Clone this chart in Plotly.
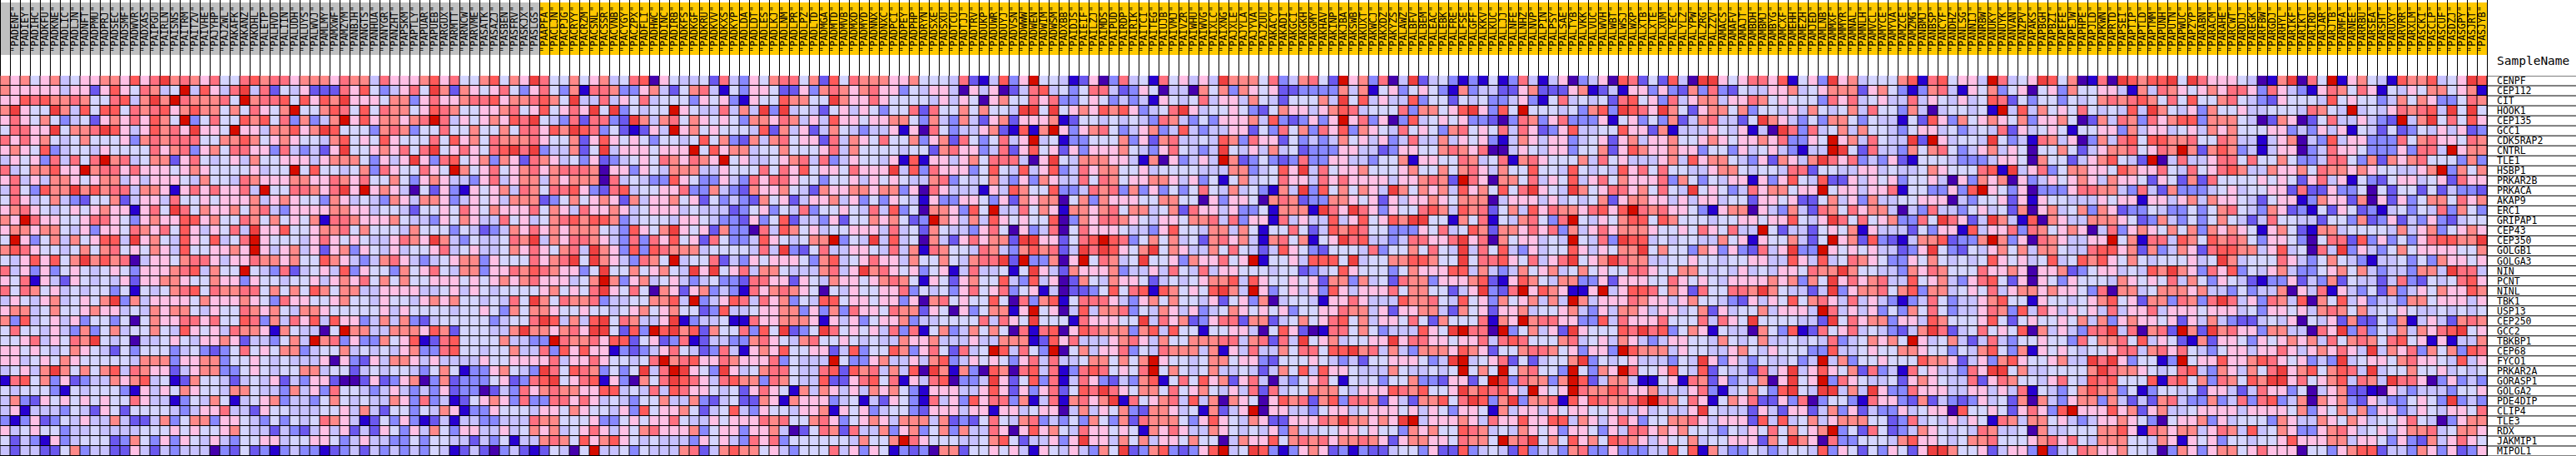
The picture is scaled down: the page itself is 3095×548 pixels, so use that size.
import plotly.graph_objects as go

genes = ["CENPF","CEP112","CIT","HOOK1","CEP135","GCC1","CDK5RAP2","CNTRL","TLE1","HSBP1","PRKAR2B","PRKACA","AKAP9","ERC1","GRIPAP1","CEP43","CEP350","GOLGB1","GOLGA3","NIN","PCNT","NINL","TBK1","USP13","CEP250","GCC2","TBKBP1","CEP68","FYCO1","PRKAR2A","GORASP1","GOLGA2","PDE4DIP","CLIP4","TLE3","RDX","JAKMIP1","MIPOL1"]

samples_grey = "PACUGP PADENF PADIEY PADIHC PADKFU PADKNE PADLIC PADLJN PADNFT PADPMU PADPRJ PADSEC PADSMF PADWVR PADXAS PAIPGU PAIRLN PAISNS PAITRM PAITZV PAIVHE PAJYHP PAJZWL PAKAFK PAKANZ PAKDHL PALETP PALHVD PALIIN PALUDH PALUYS PALWVJ PAMLMY PAMXWF PAMZYM PANBJH PANGTS PANHUA PANYGR PANZHT PAPSKM PAPTLY PAPUAR PAPUEB PARGUX PARMTT PARNCW PARVME PASATK PASAZJ PASBEN PASFRV PASKJX PASLGS".split()
samples_gold = "PAAPFA PACLJN PACPJG PACRYY PACRZM PACSNL PACSSR PACVNB PACYGY PACZPX PADFLI PADHWC PADINC PADIRB PADKFS PADKGF PADKRU PADKVV PADKXS PADKYP PADLDA PADLDT PADLES PADLKJ PADLNM PADLPR PADLPZ PADLTD PADMGA PADMTD PADMVB PADMXD PADMYD PADNNX PADNXC PADPCI PADPEY PADPHP PADRYN PADSXE PADSXU PADTCU PADTJJ PADTRV PADUKP PADUWR PADUYJ PADVSN PADWWW PADWEN PADWIM PADWSM PADXBB PAIDJS PAIEIF PAILZJ PAIMDS PAIPUD PAIRDP PAIRIK PAITCI PAITEG PAIUJB PAIVMJ PAIVZR PAIWHU PAIWVG PAIXLC PAIXNG PAJXLE PAJYLA PAJYVA PAJZUU PAKACY PAKADI PAKGCI PAKGKH PAKGMY PAKHAV PAKINP PAKJBA PAKSWB PAKUXT PAKWCJ PAKXDZ PAKYZS PALAWZ PALBFV PALBEM PALEAC PALEBK PALFRE PALFSE PALGFF PALKKV PALKUC PALLJJ PALNFE PALNHZ PALNVP PALPIN PALPSY PALSAE PALTYB PALVKK PALVUC PALWVH PALWBT PALWSJ PALWXP PALXTB PALXTE PALXUM PALYEC PALYLZ PALYPW PALZRG PALZZV PAMACS PAMAFV PAMAJT PAMBDH PAMBMJ PAMBYG PAMCXF PAMEHH PAMEZH PAMJED PAMLNB PAMMXF PAMMYR PAMNAL PAMNLH PAMVCL PAMYCE PAMYVA PAMZCE PAMZMG PANBMJ PANBSP PANCYF PANDHZ PANLSG PANNIJ PANRBW PANUKY PANUYK PANVAN PANZPV PAPAKS PAPBGH PAPBZI PAPEFE PAPEJW PAPHPE PAPJLD PAPKWN PAPRTD PAPSEI PAPTIP PAPTLD PAPTMM PAPUNH PAPUTN PAPWUC PAPZYP PARABN PARACM PARAHE PARCWT PARDUJ PAREGK PARFBW PARGDJ PARHYL PARIKF PARIKT PARIRD PARJAR PARJTB PARMFA PARNEE PARRBU PARSEA PARSHT PARUXY PARVRR PARXLM PASCKI PASCLP PASCUF PASDZJ PASGPY PASJRT PASJYB".split()

# Colour level of each cell: hex digit, 0 = darkest blue ... b = deepest red.
block1 = """
767567 456677 6968a7 876855 897886 777687
766666 466269 658745 b49648 a48254 622286
669897 787558 947a7b 877785 b78895 9697a6
7a655a 749599 587896 797757 58657b 557985
686575 345267 686975 b35855 979583 7347b6
58866a 577 8a9 646978 6a665b 664779 67a955
868675 457555 637878 885577 975676 554795
676593 455465 555867 836758 866384 3426a5
465638 485 8b7 845772 685456 475566 646777
845779 66b788 686665 676555 56455b 595545
684647 765677 464666 547554 876667 766876
485397 7a7978 847761 686866 84b558 8768a6
586457 432557 246648 556566 674676 553764
678654 565 676 61685a 857667 578436 666776
76b866 556886 536766 996755 875756 571887
677677 546366 587685 964658 4a6695 567785
5b6357 475699 4a6754 965945 8b6555 468656
798655 457578 565764 955667 6b6467 462673
546969 57a797 804665 788646 687767 559764
846363 565456 536667 894755 b54382 456493
658164 265454 626677 655766 365545 564676
858756 454553 515457 895877 885757 597577
465467 456 57a 374666 657666 765386 655675
677457 556766 454767 754655 876754 776555
739456 463553 505766 886855 983748 694966
585546 437357 455754 965648 776175 4405b7
556846 587a54 504456 546676 244357 4b7836
665654 576542 535553 453235 856577 345574
664565 765555 547773 667735 565454 446063
456 47a 757 579 487 662 467 733 565455 774552
189573 623447 679451 275542 454624 366200
545553 154555 316465 765547 754437 463855
473265 656565 586441 354751 456734 435754
461444 354265 255554 346684 426554 445564
313623 546447 422473 577366 543535 458764
645655 344544 445556 565567 544243 246462
524316 345552 375363 654643 556645 566534
424422 573442 264243 444032 523134 331234
"""

block2 = """
748666 796855 7957 6a 855756 745890 654452
953 468 5a7276 568536 853718 873367 425784
665773 686678 896778 975a44 846584 555365
958775 698755 667856 956 86a 5a3545 5b6544
967767 8b8465 67698a 543828 832a74 785765
537873 558557 557588 697a98 352126 4b6756
659655 585967 587778 6 5 5 7 2 6 965653 554 595
567685 8a5686 589a8a 344725 a46665 666b59
536 4 6a 638956 737628 764536 234565 876876
738655 865b75 685678 678887 066365 477744
855753 676443 684677 476777 084543 396533
b67640 526316 567487 588963 289455 668337
543764 776346 564777 235756 762746 675625
645542 556586 576668 576486 676456 664544
666754 436576 448564 578979 973455 546654
755547 555354 234768 676777 54396 5 7a6562
544687 6a7435 445 87a 476887 643838 695628
654645 568456 445768 657 84a 763939 877745
347864 345677 365558 678a5a 764387 5b4558
655375 685477 366 879 876635 a55756 7 54a6a
857575 566656 567678 666457 b73674 564345
446666 445646 545555 675658 a65850 762673
546 554 676755 454 85a 758778 344557 794b34
556465 555455 653 7 5 7 765565 545675 675523
347473 245555 534558 a94749 a58744 6a1344
744777 6 97255 544 7a7 767 86a a529 3b 9a7927
337569 128955 557443 3b8778 699256 238124
545467 338955 455744 839696 613234 685423
264776 464444 655666 684668 655458 b78966 
454554 357513 367543 a85987 3535a4 8ba653
262367 037233 356238 9a5689 163075 8a9864
434643 436233 024386 787766 994548 498665
544763 834125 676383 388686 454355 744732
742553 547613 365554 665765 546395 667524
125363 124144 334448 775556 335656 685446
426536 475366 446457 674568 646578 666735
644335 355442 435144 787596 796545 444365
243434 354124 203421 254 05b 445354 447824
"""

block3 = """
843657 885729 587776 675554 821493 6b5541
153665 226378 767866 354664 064602 489453
631655 9775 5a 766 865 555464 650675 586833
847 4a3 a4 542 5 646535 582855 757554 aa5a56
653776 874649 665667 753743 742672 666712
555492 74 6247 543446 160853 446721 917b63
732747 856628 476585 573672 853584 6b4513
677455 755568 475555 455278 663482 695626
b56445 678483 465546 191664 675888 406a54
655585 869566 586 66a 493866 635954 946934
643868 865535 564656 544783 545743 637644
432766 754276 677677 360864 441649 755933
343275 624667 463536 541633 665362 767705
423563 548355 654849 350776 395b44 857617
332635 924 43 6 255767 523b76 474965 655903
733084 975645 566648 452754 436850 634805
533496 545 77b 354a49 450742 686772 aa6625
555484 a32584 466548 471875 548743 797824
243656 665379 456866 475575 478 8a2 b33706
568477 544478 46a786 563561 484451 5a6427
332886 626547 665678 751652 675594 394602
431867 876505 465566 835453 685683 561402
698486 735499 566566 360785 655950 837915
944566 773637 386658 772650 635771 6b5604
511866 777616 463566 734455 558486 5a5551
558395 a23 5a8 565648 381573 475750 818906
433786 547855 654544 766744 464477 712968
841676 955662 493559 736852 845b94 853b05
876668 354 44b 533674 464793 465653 684844
a64578 854489 297847 490a71 730970 894813
897738 754492 268958 164890 334a62 593814
452686 517476 464767 531666 446962 636825
452276 176663 451426 531846 396883 714817
594365 546671 656345 532666 466166 456604
566687 855786 356764 777472 325854 783435
663667 402587 284473 673573 744860 696754
643868 355555 547557 b86555 445795 244636
797756 435558 463651 323077 255656 416546
"""

block4 = """
260384 518564 64a777 583478 52b673 804a24
588423 650440 757376 562233 337471 563565
565343 416545 846647 542555 74a594 644935
769796 345 8a6 455653 257664 679845 558377
554545 438743 536667 493236 36b683 603945
678534 673494 344662 538573 869376 548565
355573 627844 549738 662534 347564 634844
366675 436854 34a546 474523 336644 236655
777664 170634 64b723 532383 366443 557166
867755 645555 444773 459 6a4 856675 556755
858756 677646 351574 558664 868666 646678
487837 363535 854745 317 4a3 957576 4a7576
737666 557755 063665 078723 377656 264667
767857 745728 664633 517771 a86a86 365589
768876 546657 784836 618464 494695 697aa5
866654 436955 477475 155852 497985 533365
89b983 575745 278674 178571 56a894 434886
a8a965 7a5764 475854 249653 255548 355758
b58745 a55637 668 56b 155649 995a45 577997
666734 464854 846655 545523 459655 535766
754 766 524545 677949 655656 277374 528773
235958 919756 59a74b 635646 396466 685775
888643 675755 462563 704554 166864 449778
947783 547646 345765 656355 668774 626677
866655 a48672 368827 724575 689574 665852
987773 794955 155664 059620 188575 344496
444678 647557 778847 828 4a5 674556 6a6886
746683 548777 471648 447588 599a78 474377
577575 7b6554 577566 325556 543425 566653
898565 8b5754 574454 247594 966544 475445
863243 791585 967268 404356 851545 355733
98a865 775856 754648 284557 775466 698795
867a18 567849 470765 069782 793887 264277
746573 277645 172 46b 066443 566456 665646
375372 877753 696547 622666 87a776 76ab46
866565 176864 476545 463744 556656 553767
a66475 746657 550476 695787 867787 626776
437 5a2 379323 69b45a 931367 623132 245536
"""

block5 = """
531315 138414 603460 982529 40aa65 688691
317344 226722 267124 166363 273832 544667
525453 346315 845452 895638 467746 687565
569a63 95b555 453793 a986a7 526775 735546
656332 038736 833361 563537 247844 25a764
378565 848623 694455 966271 444654 614 0a8
746563 147646 634562 674667 556765 667683
787680 046546 635572 697667 663553 645643
558745 817865 557485 644467 496775 436276
757864 755955 495454 968585 544677 545548
72b860 775846 594685 766683 753546 616369
749675 958a65 4a7568 867585 4a5653 486775
657770 466646 454572 677664 646645 526656
749782 574968 776896 9b8786 653167 706437
517581 547853 8b5465 799597 555455 665669
845972 776868 374686 777655 658658 44b524
68a680 756645 4b5483 a99454 554475 616557
54a485 943645 596465 77a575 537636 328 46a
55a588 965846 8a567a 877445 565545 566449
699474 347567 457565 588655 775454 645466
666792 169754 773362 666558 656546 666767
524 6a3 28b697 6116b4 699857 628558 87a754
549563 756747 4b7466 687664 675543 264659
427562 667455 674364 776466 457264 557466
755581 76b788 663394 866685 558486 5a5555
5ab880 b35746 2a6555 98a893 576154 407539
656684 898555 784564 764346 655475 457445
769762 557887 563663 b97774 655446 754655
4ab456 825245 57a354 564443 54a636 435445
45b575 b57855 3b5376 b85569 549254 428 46a
266 25b a38773 7b9247 741156 187263 447 06a
56a798 964b65 6b8779 866744 468314 575 39a
958a93 7a3778 196987 78ab87 586157 682263
536651 746646 566556 446454 46a544 426426
667648 669669 947646 863557 786466 629494
559874 547656 366536 488676 755435 465857
658775 b78a57 596759 876465 574 556 662 75a
229345 429344 378336 333449 591743 354345
"""

block6 = """
563a67 455579 189566 4b8456 a95701 80a979
456777 267531 378416 573560 563755 664174
553868 456448 465464 598253 553545 787897
475457 485537 404554 51b494 756585 454 94a
353775 354415 296375 676573 667502 748738
384574 755435 664534 548264 565155 663746
365b67 485 44a 2b6455 4a5341 874603 748959
144ba5 284437 578534 674650 557524 677856
47a868 343621 555433 346650 755246 795 42b
825544 664544 576555 891a46 835776 659766
549226 465635 564063 767063 465676 476652
66b566 466815 533639 b65360 333688 774384
225746 374455 666043 556261 655444 656616
428758 677404 384435 645270 674573 762335
546a85 856733 85a862 4a7419 076447 776523
425657 164442 536619 466838 756760 483676
425b67 293214 779233 7b7360 876446 6b5718
33b656 564423 6a5325 467574 775448 996727
649458 765336 575454 596564 594597 965754
58 77a7 554437 687555 866760 667235 664549
375a68 678449 567436 895260 653655 547656
424a36 778579 377456 584677 676653 807745
578648 464313 485344 679551 655456 795627
64b846 463537 585344 687394 864656 484668
442a58 677366 497555 695256 556574 736766
128568 454324 7a8245 856590 746438 8a4807
454834 576 75b 645742 484355 655385 778594
533944 565577 655354 795371 656545 568847
34b473 556555 977624 637965 567 44a 8a6355
469657 283418 564438 6aa574 455557 a87765
56b386 544526 765448 268755 468549 895559
54aa47 4a6338 666446 646481 543579 773513
803553 186632 724323 645270 743677 374242
624736 243364 566095 565268 639b66 696726
574677 755238 454646 518747 756434 667653
567 b35 285234 765454 874450 744555 779618
760833 555479 665457 785556 786854 777554
549365 253652 6aa755 624663 b24587 667554
"""

block7 = """
9a5a86 665401 7a085b 167541 977945 6a9
876567 688638 64 3168 758615 465775 671
585955 785432 655549 565534 757633 587
754637 556445 554875 4b4546 878 94a 5a5
679937 775402 760258 446432 b47a58 596
645647 675556 634364 615425 235464 623
977855 874414 670439 466333 857866 587
87b727 973414 660348 665333 638 84b 677
048446 885855 753348 853727 678555 373
854856 897447 667587 767655 446 7b3 757
652728 555565 652 684 615325 664562 866
273334 564556 628226 335052 552524 332
646747 665425 661376 627062 635775 867
433535 785437 623152 652314 535483 753
743535 754248 554425 537236 243632 455
575737 676516 752177 455554 746735 676
849759 787536 653058 829363 536899 77a
347628 997746 945084 a36435 756666 557
555645 a74555 864357 543144 535376 656
7a7638 693546 743356 757434 437 74a 884
584753 654213 362437 254424 832545 896
777674 435344 706481 643527 346576 697
738738 a84638 749075 946344 377566 646
466656 664536 656478 757455 654454 545
562647 432245 460546 272253 714642 787
82b72a 786637 744086 a38354 747689 a56
652172 665365 676748 578758 956161 447
868543 566466 864676 864a47 683757 398
13b566 966798 656343 a45665 786654 946
458943 764758 a67957 984a45 575564 545
189573 875 97a a68567 948 74a 886036 343
554526 642486 635046 722106 434443 556
784337 348389 347076 732643 356 53a 343
744566 664666 657365 747366 346546 658
056673 645553 764476 576455 685403 677
767746 874945 763367 864564 677845 776
761656 355455 696667 746653 632746 865
037636 775686 660553 679924 437636 236
"""

COLORS = ["#4500AD", "#2700D1", "#6B58EF", "#8888FF", "#C7C1FF", "#D5D5FF",
          "#FFC0E5", "#FF8989", "#FF7080", "#FF5A5A", "#EF4040", "#D60C00"]
GREY = "#C0C0C0"
GOLD = "#FFC800"

W, H = 3095, 548
CELL = 12
TOP = 91
N_COLS = len(samples_grey) + len(samples_gold)


def parse(block, width, name):
    rows = []
    lines = block.strip().splitlines()
    assert len(lines) == 38, name
    for i, line in enumerate(lines):
        s = line.replace(" ", "")
        assert len(s) == width, f"{name} r{i+1} len={len(s)}"
        rows.append([int(c, 16) for c in s])
    return rows


blocks = [parse(block1, 36, "b1"), parse(block2, 36, "b2"), parse(block3, 36, "b3"), parse(block4, 36, "b4"),
          parse(block5, 36, "b5"), parse(block6, 36, "b6"), parse(block7, 33, "b7")]
z = [sum((b[r] for b in blocks), []) for r in range(len(genes))]

samples = samples_grey + samples_gold
n = len(COLORS)
colorscale = []
for i, c in enumerate(COLORS):
    colorscale += [[i / n, c], [(i + 1) / n, c]]

fig = go.Figure(go.Heatmap(
    z=z, x=list(range(N_COLS)), y=list(range(len(genes))),
    zmin=-0.5, zmax=n - 0.5, colorscale=colorscale, showscale=False,
    xgap=1, ygap=1, hoverongaps=False,
))

right = (CELL * N_COLS + 1) / W
shapes = [
    dict(type="rect", xref="x", yref="paper", x0=-0.5, x1=len(samples_grey) - 0.5,
         y0=1 - 66 / H, y1=1 - 3 / H, fillcolor=GREY, line_width=0, layer="below"),
    dict(type="rect", xref="x", yref="paper", x0=len(samples_grey) - 0.5, x1=N_COLS - 0.5,
         y0=1 - 66 / H, y1=1 - 3 / H, fillcolor=GOLD, line_width=0, layer="below"),
]
for c in range(N_COLS + 1):
    shapes.append(dict(type="line", xref="x", yref="paper", x0=c - 0.5, x1=c - 0.5,
                       y0=1 - TOP / H, y1=1, line=dict(color="black", width=1)))
for r in range(len(genes) + 1):
    shapes.append(dict(type="line", xref="paper", yref="y", x0=right, x1=1, y0=r - 0.5, y1=r - 0.5,
                       line=dict(color="black", width=1)))

annotations = [dict(text="SampleName", xref="paper", yref="paper", x=(CELL * N_COLS + 10) / W, y=1 - 73 / H,
                    xanchor="left", yanchor="middle", showarrow=False,
                    font=dict(family="DejaVu Sans Mono", size=14.5, color="black"))]
for r, g in enumerate(genes):
    annotations.append(dict(text=g, xref="paper", yref="y", x=(CELL * N_COLS + 10) / W, y=r + 0.5, yshift=-3,
                            xanchor="left", yanchor="bottom", showarrow=False,
                            font=dict(family="DejaVu Sans Mono", size=11.5, color="black")))

fig.update_layout(
    width=W, height=H, margin=dict(l=0, r=0, t=0, b=0), autosize=False,
    paper_bgcolor="white", plot_bgcolor="black", shapes=shapes, showlegend=False,
    xaxis=dict(domain=[0, right], range=[-0.5 - 0.5 / CELL, N_COLS - 0.5 + 0.5 / CELL], side="top",
               tickmode="array", tickvals=list(range(N_COLS)), ticktext=['"%s"' % s for s in samples],
               tickangle=-90, ticks="outside", ticklen=25, tickcolor="rgba(0,0,0,0)", tickwidth=1,
               tickfont=dict(family="DejaVu Sans Mono", size=11.5, color="black"),
               showgrid=False, zeroline=False, showline=False),
    yaxis=dict(domain=[0, 1 - TOP / H], range=[len(genes) - 0.5, -0.5], showticklabels=False,
               showgrid=False, zeroline=False, showline=False),
    annotations=annotations,
)

fig.write_html("out.html", post_script="document.body.style.margin='0';", config=dict(displayModeBar=False))
